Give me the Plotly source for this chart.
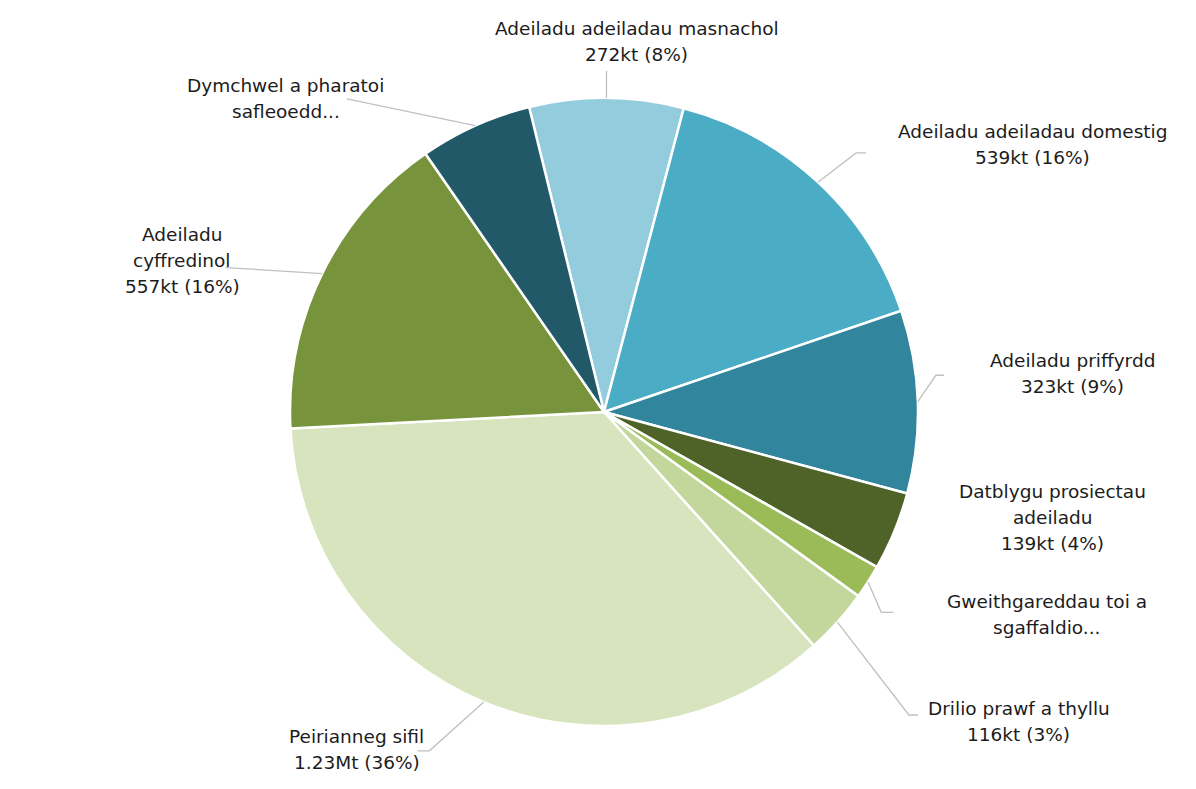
import math
import plotly.graph_objects as go

# ---------------- data ----------------
categories = [
    "Adeiladu adeiladau masnachol",
    "Adeiladu adeiladau domestig",
    "Adeiladu priffyrdd",
    "Datblygu prosiectau adeiladu",
    "Gweithgareddau toi a sgaffaldio",
    "Drilio prawf a thyllu",
    "Peirianneg sifil",
    "Adeiladu cyffredinol",
    "Dymchwel a pharatoi safleoedd",
]
values_kt = [272, 539, 323, 139, 60, 116, 1230, 557, 199]
label_name_lines = [
    ["Adeiladu adeiladau masnachol"],
    ["Adeiladu adeiladau domestig"],
    ["Adeiladu priffyrdd"],
    ["Datblygu prosiectau", "adeiladu"],
    ["Gweithgareddau toi a", "sgaffaldio..."],
    ["Drilio prawf a thyllu"],
    ["Peirianneg sifil"],
    ["Adeiladu", "cyffredinol"],
    ["Dymchwel a pharatoi", "safleoedd..."],
]
show_value = [True, True, True, True, False, True, True, True, False]

# ---------------- style / layout ----------------
colors = ["#93CDDD", "#4BACC6", "#31859C", "#4F6228", "#9BBB59",
          "#C3D69B", "#D7E4BD", "#77933C", "#215968"]
PAGE_OFF = 8               # default body margin of the html page
W, H = 1196 - 2 * PAGE_OFF, 789 - 2 * PAGE_OFF
CX, CY, R = 604, 412, 314  # pie centre / radius in window pixels
ROTATION = -13.8
LINE_H = 26
FONT = dict(family="DejaVu Sans, Verdana, sans-serif", size=18.5, color="#1c1c1c")
LEADER_COLOR = "#c0c0c0"

# label block centres (units of radius, relative to pie centre)
label_centres = [(0.105, -1.181), (1.365, -0.851), (1.492, -0.124), (1.429, 0.337),
                 (1.410, 0.644), (1.321, 0.987), (-0.787, 1.076), (-1.343, -0.483),
                 (-1.013, -1.0)]
# leader path points after the slice-edge point (None x => same x as edge)
leader_pts = [
    [(None, -1.086)],
    [(0.803, -0.825), (0.835, -0.825)],
    [(1.057, -0.117), (1.083, -0.117)],
    [],
    [(0.883, 0.638), (0.921, 0.638)],
    [(0.971, 0.965), (1.0, 0.965)],
    [(-0.556, 1.079), (-0.594, 1.079)],
    [(-1.206, -0.460)],
    [(-0.819, -0.997)],
]


def px_to_paper(x, y):
    return (x - PAGE_OFF) / W, 1 - (y - PAGE_OFF) / H


def fmt_value(v):
    if v >= 1000:
        return f"{v / 1000:.2f}Mt"
    return f"{v}kt"


total = sum(values_kt)

x0, y0 = px_to_paper(CX - R, CY + R)
x1, y1 = px_to_paper(CX + R, CY - R)

fig = go.Figure()
fig.add_trace(go.Pie(
    labels=categories,
    values=values_kt,
    sort=False,
    direction="clockwise",
    rotation=ROTATION,
    marker=dict(colors=colors, line=dict(color="white", width=2.5)),
    textinfo="none",
    hoverinfo="label+value+percent",
    showlegend=False,
    domain=dict(x=[x0, x1], y=[y0, y1]),
))

shapes = []
annotations = []
cum = 0.0
for i, v in enumerate(values_kt):
    a0 = ROTATION + cum / total * 360
    cum += v
    a1 = ROTATION + cum / total * 360
    mid = math.radians((a0 + a1) / 2)
    ex = CX + R * math.sin(mid)
    ey = CY - R * math.cos(mid)
    pts = [(ex, ey)]
    for ux, uy in leader_pts[i]:
        px = ex if ux is None else CX + ux * R
        py = CY + uy * R
        pts.append((px, py))
    if len(pts) > 1:
        path = ""
        for j, (px, py) in enumerate(pts):
            xp, yp = px_to_paper(px, py)
            path += ("M" if j == 0 else " L") + f" {xp:.5f},{yp:.5f}"
        shapes.append(dict(type="path", path=path, xref="paper", yref="paper",
                           line=dict(color=LEADER_COLOR, width=1.3), layer="above"))

    lines = list(label_name_lines[i])
    if show_value[i]:
        pct = round(v / total * 100)
        lines.append(f"{fmt_value(v)} ({pct}%)")
    bx = CX + label_centres[i][0] * R
    by = CY + label_centres[i][1] * R
    n = len(lines)
    for k, t in enumerate(lines):
        ly = by + (k - (n - 1) / 2) * LINE_H
        xp, yp = px_to_paper(bx, ly)
        annotations.append(dict(text=t, x=xp, y=yp, xref="paper", yref="paper",
                                xanchor="center", yanchor="middle", showarrow=False,
                                font=FONT, bgcolor="rgba(0,0,0,0)"))

fig.update_layout(
    width=W, height=H,
    margin=dict(l=0, r=0, t=0, b=0),
    paper_bgcolor="white",
    plot_bgcolor="white",
    shapes=shapes,
    annotations=annotations,
)

fig.write_html("out.html")
